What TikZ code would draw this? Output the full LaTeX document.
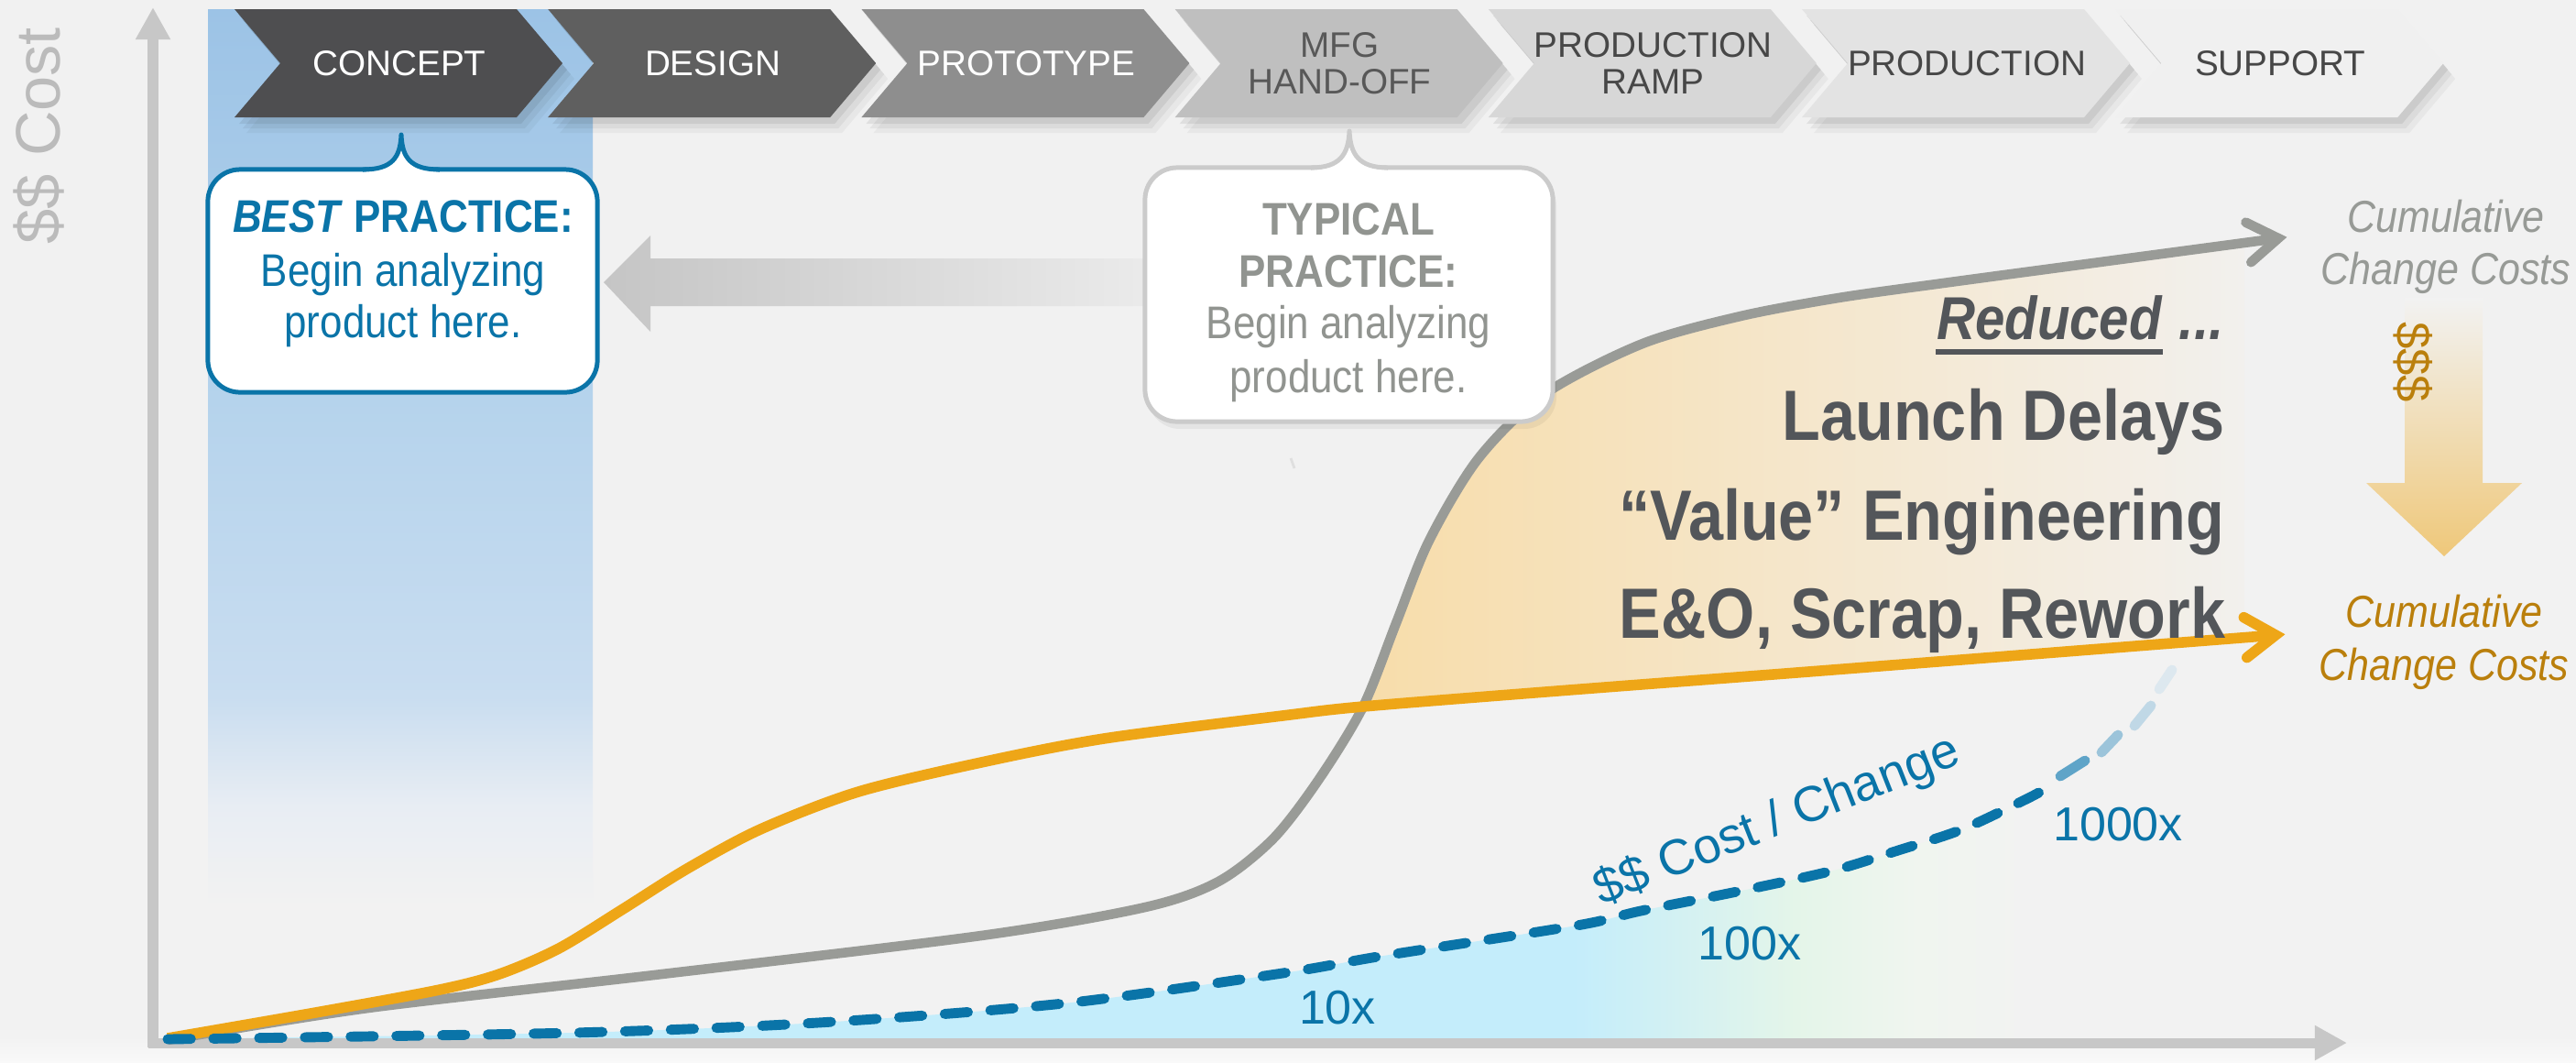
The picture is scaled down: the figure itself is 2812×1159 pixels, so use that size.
\documentclass[tikz,border=0pt]{standalone}
\usepackage{fontspec}
\setmainfont{Liberation Sans}
\newfontfamily\nf[FakeStretch=0.88]{Liberation Sans}
\usetikzlibrary{arrows.meta}

\definecolor{bgtop}{HTML}{F1F1F1}
\definecolor{bgmid}{HTML}{F2F2F2}
\definecolor{bgbot}{HTML}{F9F9F9}
\definecolor{band1}{HTML}{9CC3E6}
\definecolor{band2}{HTML}{B5D3EC}
\definecolor{band3}{HTML}{C9DDF0}
\definecolor{band4}{HTML}{E8EDF3}
\definecolor{cyanf}{HTML}{C4EDFB}
\definecolor{greenf}{HTML}{E4F5E9}
\definecolor{greenf2}{HTML}{F0F5EF}
\definecolor{beigeL}{HTML}{F8DBA4}
\definecolor{beigeR}{HTML}{F2F0ED}
\definecolor{axisgray}{HTML}{C7C7C7}
\definecolor{curvegray}{HTML}{999B97}
\definecolor{curveorange}{HTML}{EEA617}
\definecolor{dashblue}{HTML}{0A74A8}
\definecolor{textdark}{HTML}{53565A}
\definecolor{graytext}{HTML}{979A96}
\definecolor{ochre}{HTML}{BA7F0C}
\definecolor{chev1}{HTML}{4E4E50}
\definecolor{chev2}{HTML}{5F5F5F}
\definecolor{chev3}{HTML}{8E8E8E}
\definecolor{chev4}{HTML}{BFBFBF}
\definecolor{chev5}{HTML}{D7D7D7}
\definecolor{chev6}{HTML}{E3E3E3}
\definecolor{chev7}{HTML}{F0F0F0}
\definecolor{chevdark}{HTML}{474747}
\definecolor{chevmid}{HTML}{585858}
\definecolor{boxgray}{HTML}{CBCBCB}
\definecolor{typtext}{HTML}{919490}
\definecolor{arrowL}{HTML}{C5C5C5}
\definecolor{arrowR}{HTML}{EBEBEB}
\definecolor{downtip}{HTML}{EFC87A}
\definecolor{labelgray}{HTML}{BBBBBB}
\definecolor{tail1}{HTML}{5FA4C8}
\definecolor{tail2}{HTML}{9CC4DA}
\definecolor{tail3}{HTML}{C0D8E6}
\definecolor{tail4}{HTML}{DDE8EF}

% background: bgmid down to the x axis, lighter below
\pgfdeclareverticalshading{bgshade}{100bp}{color(0bp)=(bgbot); color(25bp)=(bgbot); color(26.2bp)=(bgmid); color(75bp)=(bgtop); color(100bp)=(bgtop)}
% band from y=10 to y=990
\pgfdeclareverticalshading{bandshade}{100bp}{color(0bp)=(bgmid); color(25bp)=(bgmid); color(30.6bp)=(band4); color(36.7bp)=(band3); color(53.3bp)=(band2); color(75bp)=(band1); color(100bp)=(band1)}
\pgfdeclarehorizontalshading{cyanshade}{100bp}{color(0bp)=(cyanf); color(62.0bp)=(cyanf); color(67.8bp)=(greenf); color(71.0bp)=(greenf2); color(74bp)=(bgmid); color(100bp)=(bgmid)}

\tikzset{
  chevtext/.style={font=\fontsize{11}{11.4}\selectfont, align=center, inner sep=0pt},
  calltext/.style={font=\nf\fontsize{14.2}{16.5}\selectfont, inner sep=0pt, anchor=base},
  bigtext/.style={font=\nf\bfseries\fontsize{22.1}{26}\selectfont, text=textdark, inner sep=0pt, anchor=base east},
  redtext/.style={font=\nf\bfseries\itshape\fontsize{18.8}{22}\selectfont, text=textdark, inner sep=0pt, anchor=base east},
  cumtext/.style={font=\nf\itshape\fontsize{13.9}{16}\selectfont, inner sep=0pt, anchor=base},
  multtext/.style={font=\fontsize{14.8}{16}\selectfont, text=dashblue, inner sep=0pt, anchor=base},
  grayline/.style={draw=curvegray, line width=3pt},
  orangeline/.style={draw=curveorange, line width=3.3pt},
  dashline/.style={line width=3.1pt, line cap=round},
  axisline/.style={draw=axisgray, line width=3.13pt, -{Triangle[length=10pt,width=10.2pt]}},
}

\begin{document}
\begin{tikzpicture}[x=0.01cm, y=-0.01cm]
% background
\shade[shading=bgshade] (0,0) rectangle (2812,1159);
\useasboundingbox (0,0) rectangle (2812,1159);

% blue band
\shade[shading=bandshade] (227,10) rectangle (647,990);

% cyan fill under dashed curve
\shade[shading=cyanshade] plot[smooth] coordinates {(172,1134) (625,1127) (893,1116) (1161,1095) (1400,1062) (1510,1043) (1721,1010) (1791,994) (1896,973) (2001,950) (2072,928) (2142,905) (2212,872) (2261,843)} -- (2261,1133) -- (172,1133) -- cycle;

% beige fill between curves
\begin{scope}
\clip plot[smooth] coordinates {(183,1135) (402,1100) (714,1064) (1071,1021) (1250,990) (1330,962) (1390,915) (1440,850) (1488,771) (1524,680) (1560,590) (1614,500) (1686,430) (1793,375) (1900,345) (2007,325) (2121,309) (2300,285) (2487,260)} -- (2487,1159) -- (183,1159) -- cycle;
\shade[left color=beigeL, right color=beigeR] (1400,778) -- (2450,696) -- (2450,200) -- (1400,200) -- cycle;
\end{scope}

% big left arrow
\shade[left color=arrowL, right color=arrowR] (659,308) -- (710,257) -- (710,282) -- (1260,282) -- (1260,334) -- (710,334) -- (710,362) -- cycle;

% down arrow
\shade[top color=bgmid, bottom color=downtip] (2625,325) -- (2710,325) -- (2710,527) -- (2753,527) -- (2668,607) -- (2583,527) -- (2625,527) -- cycle;

% axes
\coordinate (O) at (167,1138);
\coordinate (ytip) at (167,8);
\coordinate (xtip) at (2562,1138);
\draw[axisline] (167,1143) -- (ytip);
\draw[axisline] (162,1138) -- (xtip);

% gray curve
\draw[grayline] plot[smooth] coordinates {(183,1135) (402,1100) (714,1064) (1071,1021) (1250,990) (1330,962) (1390,915) (1440,850) (1488,771) (1524,680) (1560,590) (1614,500) (1686,430) (1793,375) (1900,345) (2007,325) (2121,309) (2300,285) (2487,260)};
\coordinate (gtip) at (2487,260);
\draw[grayline, line cap=round, line join=miter] (2457.2,286.2) -- (gtip) -- (2451.4,242.6);

% orange curve
\draw[orangeline] plot[smooth] coordinates {(183,1133) (350,1104) (480,1080) (545,1063) (610,1035) (680,992) (750,948) (830,905) (937,864) (1071,832) (1205,806) (1400,781) (1488,771) (1700,754) (2000,731) (2484,693)};
\coordinate (otip) at (2484,693);
\draw[orangeline, line cap=round, line join=miter] (2452.8,717.5) -- (otip) -- (2449.4,673.7);

% dashed blue curve
\draw[dashline, dashblue, dash pattern=on 7.2pt off 7pt] plot[smooth] coordinates {(183,1134) (625,1127) (893,1116) (1161,1095) (1400,1062) (1510,1043) (1721,1010) (1791,994) (1896,973) (2001,950) (2072,928) (2142,905) (2212,872) (2236,859)};
\draw[dashline, tail1] (2249,847) -- (2276,830);
\draw[dashline, tail2] (2294,821) -- (2312,802);
\draw[dashline, tail3] (2330,792) -- (2348,770);
\draw[dashline, tail4] (2357,752) -- (2371,731);

% tiny tick
\draw[white!75!gray, line width=0.8pt] (1409,500) -- (1413,511);

% chevrons
\foreach \i/\ccol/\tcol/\txt in {6/chev7/chevdark/{SUPPORT}, 5/chev6/chevdark/{PRODUCTION}, 4/chev5/chevdark/{PRODUCTION\\RAMP}, 3/chev4/chevmid/{MFG\\HAND-OFF}, 2/chev3/white/{PROTOTYPE}, 1/chev2/white/{DESIGN}, 0/chev1/white/{CONCEPT}} {
  \pgfmathsetmacro\L{256+342.2*\i}
  \foreach \dx/\dy/\op in {13/17/0.04, 9/12/0.05, 5/7/0.07} {
    \fill[black, opacity=\op, shift={(\dx,\dy)}] (\L,10) -- (\L+308,10) -- (\L+358,69) -- (\L+308,128) -- (\L,128) -- (\L+50,69) -- cycle;
  }
  \fill[\ccol] (\L,10) -- (\L+308,10) -- (\L+358,69) -- (\L+308,128) -- (\L,128) -- (\L+50,69) -- cycle;
  \node[chevtext, text=\tcol] (chev\i) at (\L+180,69) {\txt};
}

% BEST PRACTICE callout
\node[draw=dashblue, line width=1.42pt, fill=white, rounded corners=0.35cm, minimum width=4.25cm, minimum height=2.43cm, inner sep=0pt] (bestbox) at (439.5,306.5) {};
\fill[white] (400,190) -- (400,185) .. controls (428,185) and (437,172) .. (438,147) .. controls (439,172) and (448,185) .. (476,185) -- (476,190) -- cycle;
\draw[dashblue, line width=1.42pt, line join=round] (396,185) .. controls (428,185) and (437,172) .. (438,147) .. controls (439,172) and (448,185) .. (480,185);
\node[calltext, text=dashblue] (best1) at (440,253) {\textbf{\textit{BEST} PRACTICE:}};
\node[calltext, text=dashblue] (best2) at (440,312) {Begin analyzing};
\node[calltext, text=dashblue] (best3) at (440,368) {product here.};

% TYPICAL PRACTICE callout
\fill[black, opacity=0.05, rounded corners=0.35cm] (1253,190) rectangle (1699,468);
\node[draw=boxgray, line width=1.42pt, fill=white, rounded corners=0.35cm, minimum width=4.45cm, minimum height=2.77cm, inner sep=0pt] (typbox) at (1472.5,321.5) {};
\fill[white] (1435,188) -- (1435,183) .. controls (1463,183) and (1472,168) .. (1473,143) .. controls (1474,168) and (1483,183) .. (1511,183) -- (1511,188) -- cycle;
\draw[boxgray, line width=1.42pt, line join=round] (1431,183) .. controls (1463,183) and (1472,168) .. (1473,143) .. controls (1474,168) and (1483,183) .. (1515,183);
\node[calltext, text=typtext] (typ1) at (1472,256) {\textbf{TYPICAL}};
\node[calltext, text=typtext] (typ2) at (1472,313) {\textbf{PRACTICE:}};
\node[calltext, text=typtext] (typ3) at (1472,369) {Begin analyzing};
\node[calltext, text=typtext] (typ4) at (1472,428) {product here.};

% axis label
\node[font=\fontsize{19.5}{21}\selectfont, text=labelgray, rotate=90, inner sep=0pt] (ylabel) at (42,148) {\$\$ Cost};

% reduced list
\node[redtext] (dots) at (2428,370) {...};
\node[redtext] (reduced) at ([xshift=-5pt]dots.base west) {Reduced};
\draw[textdark, line width=1.8pt] ([yshift=-4pt]reduced.base west) -- ([yshift=-4pt]reduced.base east);
\node[bigtext] (launch) at (2429,480) {Launch Delays};
\node[bigtext] (value) at (2429,589) {“Value” Engineering};
\node[bigtext] (eo) at (2430,696) {E\&O, Scrap, Rework};

% right column
\node[cumtext, text=graytext] (cumg1) at (2670,253) {Cumulative};
\node[cumtext, text=graytext] (cumg2) at (2670,310) {Change Costs};
\node[cumtext, text=ochre] (cumo1) at (2668,684) {Cumulative};
\node[cumtext, text=ochre] (cumo2) at (2668,742) {Change Costs};
\node[rotate=-90, font=\fontsize{15}{15}\selectfont, text=ochre, inner sep=0pt] (dollars) at (2634,395) {\$\$\$};

% multipliers
\node[multtext] (m10) at (1460,1117) {10x};
\node[multtext] (m100) at (1910,1047) {100x};
\node[multtext] (m1000) at (2312,917) {1000x};
\node[font=\fontsize{15.5}{17}\selectfont, text=dashblue, rotate=21.5, inner sep=0pt] (cpc) at (1940,897) {\$\$ Cost / Change};
\end{tikzpicture}
\end{document}
